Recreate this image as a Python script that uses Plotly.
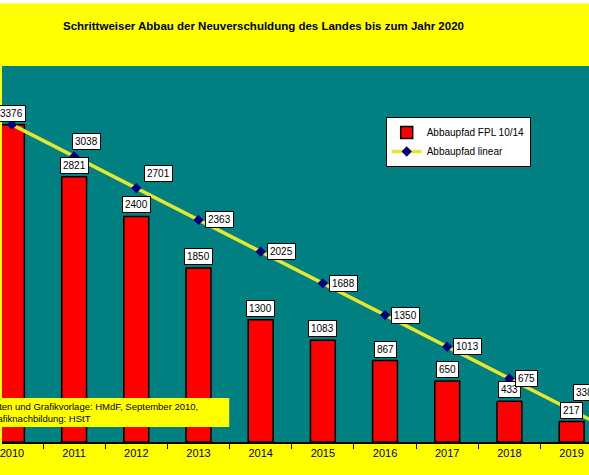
import plotly.graph_objects as go

years = ["2010", "2011", "2012", "2013", "2014", "2015", "2016", "2017", "2018", "2019", "2020"]
fpl_values = [3376, 2821, 2400, 1850, 1300, 1083, 867, 650, 433, 217, 0]
linear_values = [3376, 3038, 2701, 2363, 2025, 1688, 1350, 1013, 675, 338, 0]

title_text = "Schrittweiser Abbau der Neuverschuldung des Landes bis zum Jahr 2020"
source_text = "Daten und Grafikvorlage: HMdF, September 2010,<br>Grafiknachbildung: HStT"

W, H = 589, 475
ML, MR, MT, MB = 0, 0, 66, 33
PH = H - MT - MB

def py(px):  # pixel y (from top) -> paper y
    return (H - MB - px) / PH

def pxp(px):  # pixel x -> paper x
    return (px - ML) / (W - ML - MR)

fig = go.Figure()
fig.add_trace(go.Bar(
    x=years, y=fpl_values, name="Abbaupfad FPL 10/14",
    marker=dict(color="#FF0000", line=dict(color="#000000", width=1.5)),
    width=0.4,
))
fig.add_trace(go.Scatter(
    x=years, y=linear_values, name="Abbaupfad linear", mode="lines+markers",
    line=dict(color="#E6E62E", width=3.5),
    marker=dict(symbol="diamond", size=8, color="#000080"),
))

lab_font = dict(family="Liberation Sans, Arial", size=10, color="#000000")
annotations = []
# bar labels
for i, v in enumerate(fpl_values):
    if v <= 0:
        continue
    annotations.append(dict(
        x=i, y=v, xref="x", yref="y", text=str(v), showarrow=False,
        xanchor="center", yanchor="bottom", yshift=3,
        bgcolor="#FFFFFF", bordercolor="#000000", borderwidth=1, borderpad=2,
        font=lab_font,
    ))
# line labels
for i, v in enumerate(linear_values):
    if i == 0 or v <= 0:
        continue
    xs, ys = 6, 0
    if i == 1:
        xs, ys = -2, 15
    elif i == 2:
        xs, ys = 8, 15
    elif i == 9:
        xs, ys = 1, 18
    annotations.append(dict(
        x=i, y=v, xref="x", yref="y", text=str(v), showarrow=False,
        xanchor="left", yanchor="middle", xshift=xs, yshift=ys,
        bgcolor="#FFFFFF", bordercolor="#000000", borderwidth=1, borderpad=2,
        font=lab_font,
    ))
# source note
annotations.append(dict(
    x=pxp(-17), y=py(412.5), xref="paper", yref="paper", text=source_text,
    showarrow=False, xanchor="left", yanchor="middle", align="left",
    font=dict(family="Liberation Sans, Arial", size=9.5, color="#000000"),
))

shapes = [
    dict(type="rect", xref="paper", yref="paper", x0=-0.1, x1=1.1,
         y0=py(3.5), y1=py(-10), fillcolor="#FFFFFF", line=dict(width=0), layer="below"),
    dict(type="rect", xref="paper", yref="paper", x0=-0.1, x1=pxp(228),
         y0=py(427), y1=py(398), fillcolor="#FFFF00", line=dict(width=0), layer="above"),
]

fig.update_layout(
    width=W, height=H,
    margin=dict(l=ML, r=MR, t=MT, b=MB, pad=0),
    paper_bgcolor="#FFFF00",
    plot_bgcolor="#008080",
    title=dict(text="<b>" + title_text + "</b>", x=263.5 / W, xanchor="center",
               y=1 - 26 / H, yanchor="middle",
               font=dict(family="Liberation Sans, Arial", size=11.5, color="#000000")),
    showlegend=True,
    legend=dict(x=pxp(385), y=py(117), xanchor="left", yanchor="top",
                bgcolor="#FFFFFF", bordercolor="#000000", borderwidth=1,
                font=dict(family="Liberation Sans, Arial", size=10, color="#000000"),
                itemwidth=30, tracegroupgap=0),
    xaxis=dict(type="category", range=[-0.16, 9.28], showgrid=False,
               ticks="outside", tickson="boundaries", ticklen=5, tickcolor="#000000",
               showline=True, linecolor="#000000", linewidth=1.5,
               tickfont=dict(family="Liberation Sans, Arial", size=11, color="#000000")),
    yaxis=dict(range=[0, 4000], showgrid=False, showticklabels=False, zeroline=False,
               ticks=""),
    bargap=0.6,
    annotations=annotations,
    shapes=shapes,
)

fig.write_html("out.html", config={"displayModeBar": False},
               post_script="document.body.style.margin='0';")
